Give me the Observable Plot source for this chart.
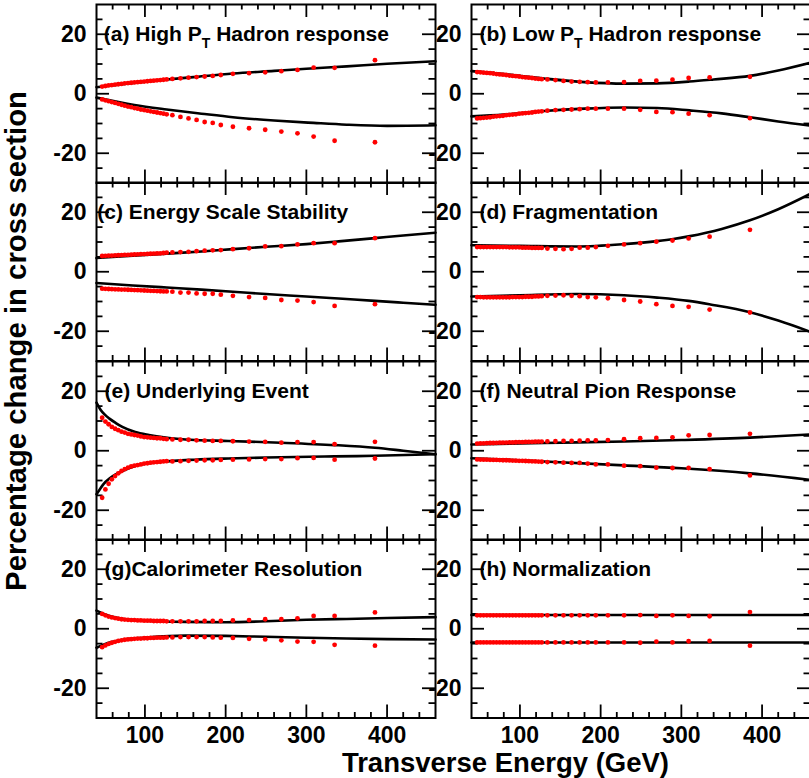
<!DOCTYPE html>
<html>
<head>
<meta charset="utf-8">
<script src="https://cdn.jsdelivr.net/npm/d3@7"></script>
<script src="https://cdn.jsdelivr.net/npm/@observablehq/plot@0.6"></script>
<style>
  html, body { margin: 0; padding: 0; background: #fff; }
  #chart { position: relative; width: 809px; height: 778px; overflow: hidden;
           font-family: "Liberation Sans", Arial, Helvetica, sans-serif; }
  #chart svg { position: absolute; }
</style>
</head>
<body>
<div id="chart"></div>
<script>
// Bin centres of the transverse-energy measurement (GeV)
const energy = [47, 51, 55, 59, 63, 67, 71, 75, 79, 83, 87, 91, 95, 99, 103, 107, 111, 115, 119, 123, 127,
                134, 144, 154, 164, 174, 184, 194, 209, 229, 249, 269, 289, 309, 335, 385];

// Percentage shifts of the cross section for the +/- variation of each source
const aUp = [2.4, 2.6, 2.8, 2.9, 3.1, 3.2, 3.3, 3.5, 3.6, 3.7, 3.8, 3.9, 4.0, 4.1, 4.2, 4.3, 4.4, 4.5, 4.6, 4.7, 4.8,
             5.0, 5.2, 5.4, 5.6, 5.8, 6.0, 6.3, 6.7, 6.9, 7.2, 7.6, 8.0, 8.8, 8.7, 11.3];
const aLo = [-1.9, -2.2, -2.5, -2.8, -3.1, -3.4, -3.7, -4.0, -4.3, -4.5, -4.8, -5.0, -5.3, -5.5, -5.7, -5.9, -6.1, -6.3, -6.5, -6.7, -6.9,
             -7.2, -7.8, -8.3, -8.8, -9.5, -9.8, -10.5, -11.1, -11.6, -12.1, -12.7, -13.3, -14.4, -15.8, -16.3];
const bUp = [7.3, 7.2, 7.1, 7.0, 6.9, 6.8, 6.6, 6.5, 6.4, 6.3, 6.1, 6.0, 5.9, 5.8, 5.6, 5.5, 5.4, 5.3, 5.1, 5.0, 4.9,
             4.8, 4.6, 4.3, 4.1, 4.0, 3.9, 3.8, 3.8, 3.9, 4.3, 4.4, 4.7, 5.3, 5.5, 5.7];
const bLo = [-8.3, -8.2, -8.1, -8.0, -7.9, -7.7, -7.6, -7.5, -7.4, -7.2, -7.1, -7.0, -6.9, -6.7, -6.6, -6.5, -6.4, -6.3, -6.1, -6.0, -5.9,
             -5.7, -5.5, -5.4, -5.3, -5.2, -5.0, -5.0, -5.0, -5.0, -5.4, -6.1, -6.2, -6.7, -7.2, -8.2];
const cUp = [5.3, 5.35, 5.4, 5.45, 5.5, 5.55, 5.6, 5.65, 5.7, 5.75, 5.8, 5.85, 5.9, 5.95, 6.0, 6.05, 6.1, 6.15, 6.2, 6.3, 6.4,
             6.5, 6.6, 6.7, 6.9, 7.1, 7.2, 7.3, 7.6, 7.9, 8.5, 8.6, 9.2, 9.6, 9.6, 11.3];
const cLo = [-5.7, -5.75, -5.8, -5.85, -5.9, -5.95, -6.0, -6.0, -6.05, -6.1, -6.15, -6.2, -6.25, -6.3, -6.35, -6.4, -6.45, -6.5, -6.55, -6.6, -6.6,
             -6.7, -7.0, -7.0, -7.3, -7.4, -7.4, -7.7, -8.1, -8.5, -8.8, -9.5, -9.7, -10.2, -11.5, -10.9];
const dUp = [8.3, 8.3, 8.3, 8.3, 8.3, 8.3, 8.3, 8.3, 8.3, 8.3, 8.2, 8.2, 8.2, 8.2, 8.1, 8.1, 8.1, 8.0, 8.0, 8.0, 8.0,
             7.8, 7.7, 7.6, 7.7, 8.1, 8.1, 8.3, 8.7, 9.2, 9.6, 10.1, 10.5, 11.2, 11.8, 14.1];
const dLo = [-8.5, -8.5, -8.6, -8.6, -8.6, -8.6, -8.6, -8.6, -8.6, -8.6, -8.6, -8.5, -8.5, -8.5, -8.5, -8.4, -8.4, -8.4, -8.3, -8.3, -8.2,
             -8.1, -8.0, -7.9, -8.1, -8.2, -8.5, -8.6, -8.9, -9.5, -10.0, -10.9, -11.5, -11.8, -12.7, -13.7];
const eUp = [11.1, 9.8, 8.9, 8.0, 7.4, 6.9, 6.4, 6.1, 5.7, 5.5, 5.3, 5.1, 4.8, 4.6, 4.5, 4.4, 4.3, 4.2, 4.2, 4.0, 3.9,
             3.8, 3.7, 3.7, 3.5, 3.4, 3.3, 3.3, 3.2, 3.1, 3.0, 2.7, 2.9, 2.9, 2.2, 3.0];
const eLo = [-15.8, -13.0, -11.1, -9.6, -8.5, -7.6, -6.8, -6.2, -5.7, -5.3, -5.0, -4.8, -4.6, -4.3, -4.2, -4.0, -3.9, -3.8, -3.7, -3.6, -3.5,
             -3.6, -3.5, -3.4, -3.3, -3.2, -3.2, -3.1, -3.0, -2.9, -2.8, -2.8, -2.5, -2.4, -3.0, -2.6];
const fUp = [2.4, 2.45, 2.5, 2.55, 2.6, 2.6, 2.65, 2.7, 2.7, 2.75, 2.8, 2.8, 2.85, 2.9, 2.9, 2.95, 3.0, 3.0, 3.05, 3.1, 3.1,
             3.15, 3.2, 3.3, 3.3, 3.4, 3.5, 3.5, 3.6, 3.9, 4.2, 4.3, 4.5, 5.2, 5.3, 5.7];
const fLo = [-2.9, -2.95, -3.0, -3.0, -3.05, -3.1, -3.1, -3.15, -3.2, -3.2, -3.25, -3.3, -3.35, -3.4, -3.4, -3.45, -3.5, -3.55, -3.6, -3.65, -3.7,
             -3.8, -3.9, -4.0, -4.1, -4.1, -4.3, -4.6, -4.6, -5.0, -5.2, -5.7, -5.8, -5.8, -6.2, -8.3];
const gUp = [5.0, 4.5, 4.1, 3.8, 3.6, 3.4, 3.2, 3.1, 3.0, 2.9, 2.9, 2.8, 2.8, 2.7, 2.7, 2.7, 2.6, 2.6, 2.6, 2.6, 2.5,
             2.5, 2.5, 2.5, 2.5, 2.6, 2.6, 2.6, 2.8, 2.9, 3.2, 3.2, 3.5, 4.3, 4.3, 5.5];
const gLo = [-6.2, -5.6, -5.1, -4.7, -4.4, -4.1, -3.9, -3.7, -3.6, -3.5, -3.4, -3.3, -3.3, -3.2, -3.2, -3.1, -3.1, -3.0, -3.0, -3.0, -2.9,
             -2.9, -2.8, -2.8, -2.8, -2.8, -2.9, -3.0, -3.1, -3.4, -3.6, -3.9, -4.3, -4.4, -5.4, -5.7];
const hUp = [4.5, 4.5, 4.5, 4.5, 4.5, 4.5, 4.5, 4.5, 4.5, 4.5, 4.5, 4.5, 4.5, 4.5, 4.5, 4.5, 4.5, 4.5, 4.5, 4.5, 4.5,
             4.5, 4.5, 4.5, 4.5, 4.5, 4.5, 4.5, 4.5, 4.5, 4.6, 4.3, 4.5, 4.3, 4.2, 5.6];
const hLo = [-4.6, -4.6, -4.6, -4.6, -4.6, -4.6, -4.6, -4.6, -4.6, -4.6, -4.6, -4.6, -4.6, -4.6, -4.6, -4.6, -4.6, -4.6, -4.6, -4.6, -4.6,
             -4.6, -4.6, -4.6, -4.6, -4.6, -4.6, -4.6, -4.6, -4.6, -4.7, -4.3, -4.6, -4.2, -4.1, -5.7];

// Smooth parametrisations of the shifts: [E_T, percent] nodes
const aUpFit = [[40, 2.2], [80, 3.5], [120, 4.6], [160, 5.6], [209, 6.8], [260, 7.7], [300, 8.4], [350, 9.2], [400, 10.1], [460, 10.9]];
const aLoFit = [[40, -1.3], [87, -3.8], [127, -5.3], [170, -6.7], [209, -7.9], [260, -9.0], [309, -9.8], [350, -10.4], [400, -10.8], [460, -10.6]];
const bUpFit = [[40, 7.6], [80, 6.6], [130, 5.1], [180, 3.9], [230, 3.4], [270, 3.5], [310, 4.1], [340, 4.8], [385, 6.0], [420, 7.8], [460, 10.4]];
const bLoFit = [[40, -7.6], [80, -7.0], [130, -5.8], [180, -5.0], [230, -4.6], [270, -4.8], [310, -5.6], [350, -6.6], [385, -7.9], [420, -9.3], [460, -10.7]];
const cUpFit = [[40, 4.6], [80, 5.3], [127, 6.1], [170, 6.8], [209, 7.6], [250, 8.4], [300, 9.3], [340, 10.2], [385, 11.3], [420, 12.2], [460, 13.1]];
const cLoFit = [[40, -3.8], [85, -4.6], [127, -5.3], [170, -6.0], [209, -6.7], [250, -7.5], [300, -8.3], [340, -9.0], [385, -9.8], [420, -10.4], [460, -11.1]];
const dUpFit = [[40, 8.9], [100, 8.7], [170, 8.5], [229, 9.3], [270, 10.3], [290, 11.0], [309, 11.9], [350, 14.4], [385, 17.3], [420, 21.0], [460, 26.2]];
const dLoFit = [[40, -8.3], [100, -7.9], [170, -7.5], [229, -7.9], [270, -8.7], [309, -9.8], [336, -11.0], [385, -13.6], [420, -16.4], [460, -20.2]];
const eUpFit = [[40, 16.2], [45, 13.8], [50, 12.2], [56, 10.8], [64, 9.3], [72, 8.0], [88, 6.3], [105, 5.3], [121, 4.6], [162, 3.6], [203, 3.3], [268, 2.7], [335, 1.9], [385, 1.0], [420, 0.0], [460, -1.2]];
const eLoFit = [[40, -14.6], [44, -13.0], [47, -11.8], [51, -10.5], [56, -9.3], [64, -7.9], [72, -6.8], [88, -5.1], [105, -4.2], [121, -3.7], [162, -3.0], [203, -2.6], [268, -2.2], [335, -1.9], [385, -1.7], [460, -1.2]];
const fUpFit = [[40, 2.1], [130, 2.6], [229, 3.1], [300, 3.6], [385, 4.4], [460, 5.5]];
const fLoFit = [[40, -2.5], [130, -3.6], [229, -4.9], [300, -5.9], [385, -7.6], [460, -9.8]];
const gUpFit = [[40, 6.1], [50, 4.9], [60, 4.0], [75, 3.2], [100, 2.7], [150, 2.3], [200, 2.2], [250, 2.5], [300, 3.0], [350, 3.3], [400, 3.6], [460, 3.9]];
const gLoFit = [[40, -6.4], [50, -5.2], [60, -4.4], [75, -3.6], [100, -3.0], [150, -2.3], [200, -2.4], [250, -2.7], [300, -3.0], [350, -3.3], [400, -3.5], [460, -3.6]];
const hUpFit = [[40, 4.6], [460, 4.6]];
const hLoFit = [[40, -4.6], [460, -4.6]];

// Panel labels ("_T" marks a subscript T)
const titles = ["(a) High P_T Hadron response", "(b) Low P_T Hadron response", "(c) Energy Scale Stability",
                "(d) Fragmentation", "(e) Underlying Event", "(f) Neutral Pion Response",
                "(g)Calorimeter Resolution", "(h) Normalization"];
const titleStart = [49, 50, 41, 50, 50, 50, 50, 50];

// Axis ticks
const xMajor = [100, 200, 300, 400];
const xMinor = [60, 80, 120, 140, 160, 180, 220, 240, 260, 280, 320, 340, 360, 380, 420, 440];
const yMajor = [-20, 0, 20];
const yMinor = [-25, -15, -10, -5, 5, 10, 15, 25];

const xTitle = "Transverse Energy (GeV)";
const yTitle = "Percentage change in cross section";

const series = [
  [aUp, aLo, aUpFit, aLoFit], [bUp, bLo, bUpFit, bLoFit],
  [cUp, cLo, cUpFit, cLoFit], [dUp, dLo, dUpFit, dLoFit],
  [eUp, eLo, eUpFit, eLoFit], [fUp, fLo, fUpFit, fLoFit],
  [gUp, gLo, gUpFit, gLoFit], [hUp, hLo, hUpFit, hLoFit]
];

// Layout of the 4 x 2 grid of frames (pixels)
const FONT = '"Liberation Sans", Arial, Helvetica, sans-serif';
const FRAME_W = 339, FRAME_H = 178.5;
const colLeft = [96, 471];
const rowTop = 3.5;
const X_DOMAIN = [40, 460], Y_DOMAIN = [-30, 30];
const gx = (X_DOMAIN[1] - X_DOMAIN[0]) / FRAME_W;   // GeV per pixel
const gy = (Y_DOMAIN[1] - Y_DOMAIN[0]) / FRAME_H;   // percent per pixel

const chart = document.getElementById("chart");

function drawPanel(k) {
  const col = k % 2, row = Math.floor(k / 2);
  const [up, lo, upFit, loFit] = series[k];
  const bottomRow = row === 3;
  const mL = 60, mR = 12, mT = 12, mB = bottomRow ? 50 : 12;
  const [x0, x1] = X_DOMAIN, [y0, y1] = Y_DOMAIN;
  const majX = 13 * gx, minX = 6.5 * gx, majY = 13 * gy, minY = 5.5 * gy;
  const tickStyle = {stroke: "black", strokeWidth: 1.8};
  const pts = (ys) => energy.map((e, i) => ({e, v: ys[i]}));
  const fit = (f) => f.map(([e, v]) => ({e, v}));

  const marks = [
    // y ticks, inward on both sides
    Plot.ruleY(yMajor, {y: d => d, x1: x0, x2: x0 + majX, ...tickStyle}),
    Plot.ruleY(yMinor, {y: d => d, x1: x0, x2: x0 + minX, ...tickStyle}),
    Plot.ruleY(yMajor, {y: d => d, x1: x1 - majX, x2: x1, ...tickStyle}),
    Plot.ruleY(yMinor, {y: d => d, x1: x1 - minX, x2: x1, ...tickStyle}),
    // x ticks, inward on top and bottom
    Plot.ruleX(xMajor, {x: d => d, y1: y0, y2: y0 + majY, ...tickStyle}),
    Plot.ruleX(xMinor, {x: d => d, y1: y0, y2: y0 + minY, ...tickStyle}),
    Plot.ruleX(xMajor, {x: d => d, y1: y1 - majY, y2: y1, ...tickStyle}),
    Plot.ruleX(xMinor, {x: d => d, y1: y1 - minY, y2: y1, ...tickStyle}),
    Plot.frame({stroke: "black", strokeWidth: 2}),
    // fitted curves
    Plot.line(fit(upFit), {x: "e", y: "v", curve: "monotone-x", stroke: "black", strokeWidth: 2.6}),
    Plot.line(fit(loFit), {x: "e", y: "v", curve: "monotone-x", stroke: "black", strokeWidth: 2.6}),
    // measured shifts
    Plot.dot(pts(up), {x: "e", y: "v", r: 2.4, fill: "#ff0000", stroke: "none"}),
    Plot.dot(pts(lo), {x: "e", y: "v", r: 2.4, fill: "#ff0000", stroke: "none"}),
    // y tick labels
    Plot.text(yMajor, {x: x0, y: d => d, text: d => String(d), textAnchor: "end", dx: -10,
                       fontSize: 23, fontWeight: "bold", fontFamily: FONT, fill: "black"}),
    // panel label
    Plot.text([titles[k]], {x: titleStart[k], y: 20, text: d => d, textAnchor: "start",
                            fontSize: 21, fontWeight: "bold", fontFamily: FONT, fill: "black"})
  ];
  if (bottomRow) {
    marks.push(Plot.text(xMajor, {x: d => d, y: y0, text: d => String(d), lineAnchor: "top", dy: 9,
                                  fontSize: 23, fontWeight: "bold", fontFamily: FONT, fill: "black"}));
  }

  const svg = Plot.plot({
    width: FRAME_W + mL + mR,
    height: FRAME_H + mT + mB,
    marginLeft: mL, marginRight: mR, marginTop: mT, marginBottom: mB,
    x: {domain: X_DOMAIN, axis: null},
    y: {domain: Y_DOMAIN, axis: null},
    style: `background: transparent; overflow: visible; font-family: ${FONT};`,
    marks
  });

  // Render "P_T" with a lowered, smaller T
  d3.select(svg).selectAll("text").each(function () {
    const s = this.textContent;
    const i = s.indexOf("_T");
    if (i < 0) return;
    const t = d3.select(this);
    t.text(null);
    t.append("tspan").text(s.slice(0, i));
    t.append("tspan").attr("font-size", 14).attr("dy", 7).text("T");
    t.append("tspan").attr("dy", -7).text(s.slice(i + 2));
  });

  svg.style.left = (colLeft[col] - mL) + "px";
  svg.style.top = (rowTop + row * FRAME_H - mT) + "px";
  chart.appendChild(svg);
}

// left column first so the right column's labels sit on top
[0, 2, 4, 6, 1, 3, 5, 7].forEach(drawPanel);

// Axis titles
const overlay = d3.select(chart).append("svg")
  .attr("width", 809).attr("height", 778)
  .style("left", "0px").style("top", "0px").style("pointer-events", "none")
  .style("font-family", FONT).style("font-weight", "bold");
overlay.append("text")
  .attr("transform", "translate(26,91) rotate(-90)")
  .attr("text-anchor", "end").attr("font-size", 29.3).attr("fill", "black")
  .text(yTitle);
overlay.append("text")
  .attr("x", 669).attr("y", 772)
  .attr("text-anchor", "end").attr("font-size", 27.5).attr("fill", "black")
  .text(xTitle);
</script>
</body>
</html>
